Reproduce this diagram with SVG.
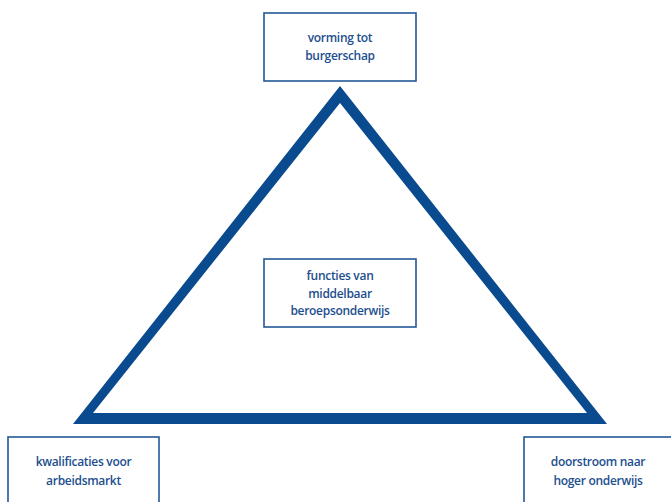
<svg xmlns="http://www.w3.org/2000/svg" width="671" height="502" viewBox="0 0 671 502">
  <style>
    .box { fill: #ffffff; stroke: #245898; stroke-width: 1.6; }
    .lbl { font-family: "Open Sans", "Noto Sans", sans-serif; font-size: 12px; font-weight: 600; letter-spacing: -0.3px; fill: #1d4f8e; text-anchor: middle; }
  </style>
  <rect width="671" height="502" fill="#ffffff"/>

  <g id="connectors">
    <!-- thick triangular frame linking the three outer functions -->
    <path d="M340,86 L607,424 L73,424 Z M340,103 L587,413 L93,413 Z" fill="#0a4a8e" fill-rule="evenodd"/>
  </g>

  <g id="node-burgerschap">
    <rect class="box" x="264" y="13" width="152" height="68"/>
    <text class="lbl" x="340" y="42">vorming tot</text>
    <text class="lbl" x="340" y="60">burgerschap</text>
  </g>

  <g id="node-functies">
    <rect class="box" x="264" y="259" width="152" height="68"/>
    <text class="lbl" x="340" y="280">functies van</text>
    <text class="lbl" x="340" y="298">middelbaar</text>
    <text class="lbl" x="340" y="315">beroepsonderwijs</text>
  </g>

  <g id="node-kwalificaties">
    <rect class="box" x="8" y="437" width="151" height="80"/>
    <text class="lbl" x="83.5" y="466">kwalificaties voor</text>
    <text class="lbl" x="83.5" y="485">arbeidsmarkt</text>
  </g>

  <g id="node-doorstroom">
    <rect class="box" x="524" y="437" width="151" height="80"/>
    <text class="lbl" x="598" y="466">doorstroom naar</text>
    <text class="lbl" x="598" y="485">hoger onderwijs</text>
  </g>
</svg>
